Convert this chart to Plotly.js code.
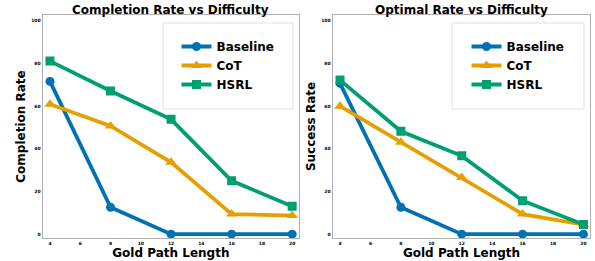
<!DOCTYPE html>
<html><head><meta charset="utf-8">
<script src="https://cdn.plot.ly/plotly-3.0.1.min.js"></script>
<style>html,body{margin:0;padding:0;background:#fff}#chart{width:595px;height:261px}</style>
</head><body><div id="chart"></div>
<script>
const pathLength = [4, 8, 12, 16, 20];
const seriesNames = ["Baseline", "CoT", "HSRL"];
const completionBaseline = [71.6, 12.6, 0, 0, 0];
const completionCoT = [60.9, 50.7, 33.7, 9.4, 8.7];
const completionHSRL = [81.1, 67.1, 53.8, 25.0, 13.1];
const optimalBaseline = [70.7, 12.6, 0, 0, 0];
const optimalCoT = [60.0, 43.1, 26.5, 9.4, 4.5];
const optimalHSRL = [72.2, 48.2, 36.7, 15.7, 4.5];
const xTicks = [4, 6, 8, 10, 12, 14, 16, 18, 20];
const yTicks = [0, 20, 40, 60, 80, 100];

const colors = ["#0072B2", "#E69F00", "#009E73"];
const symbols = ["circle", "triangle-up", "square"];
const F = "DejaVu Sans, sans-serif";

function mk(y, i, xa, ya, leg) {
  return {x: pathLength, y: y, name: seriesNames[i], type: "scatter", mode: "lines+markers",
    xaxis: xa, yaxis: ya, legend: leg,
    line: {color: colors[i], width: 3.8},
    marker: {color: colors[i], symbol: symbols[i], size: i === 1 ? 10 : 9}};
}
const traces = [
  mk(completionBaseline, 0, "x", "y", "legend"),
  mk(completionCoT, 1, "x", "y", "legend"),
  mk(completionHSRL, 2, "x", "y", "legend"),
  mk(optimalBaseline, 0, "x2", "y2", "legend2"),
  mk(optimalCoT, 1, "x2", "y2", "legend2"),
  mk(optimalHSRL, 2, "x2", "y2", "legend2")
];

function xax(dom, anchor) {
  return {domain: dom, anchor: anchor, range: [3.52, 20.45], tickvals: xTicks,
    ticks: "", ticklabelstandoff: 0,
    tickfont: {family: F, size: 4.5, color: "#000", weight: "bold"},
    showgrid: false, zeroline: false, showline: true, mirror: true, linecolor: "#b0b0b0", linewidth: 1.2,
    title: {text: "Gold Path Length", font: {family: F, size: 12, color: "#000", weight: "bold"}, standoff: 4}};
}
function yax(dom, anchor, t) {
  return {domain: dom, anchor: anchor, range: [-1.8, 102.7], tickvals: yTicks, ticksuffix: "%",
    ticks: "",
    tickfont: {family: F, size: 4.5, color: "#000", weight: "bold"},
    showgrid: false, zeroline: false, showline: true, mirror: true, linecolor: "#b0b0b0", linewidth: 1.2,
    title: {text: t, font: {family: F, size: 12, color: "#000", weight: "bold"}, standoff: 3}};
}
const yd = [0.0881, 0.9425];
const leg = (x, y) => ({x: x, y: y, xref: "paper", yref: "paper", xanchor: "left", yanchor: "top",
  bgcolor: "rgba(0,0,0,0)", borderwidth: 0, tracegroupgap: 0,
  font: {family: F, size: 12, color: "#000", weight: "bold"}});
const layout = {
  width: 595, height: 261, margin: {l: 0, r: 0, t: 0, b: 0},
  paper_bgcolor: "#fff", plot_bgcolor: "#fff", showlegend: true,
  xaxis: xax([0.0718, 0.5025], "y"),
  yaxis: yax(yd, "x", "Completion Rate"),
  xaxis2: xax([0.5592, 0.9921], "y2"),
  yaxis2: yax(yd, "x2", "Success Rate"),
  legend: leg(176.5/595, 1 - 32/261),
  legend2: leg(466.5/595, 1 - 32/261),
  shapes: [
    {type: "rect", xref: "paper", yref: "paper", x0: 163/595, x1: 293/595, y0: 1 - 109/261, y1: 1 - 23/261,
     line: {color: "#e0e0e0", width: 1}, fillcolor: "rgba(255,255,255,0.8)", layer: "below"},
    {type: "rect", xref: "paper", yref: "paper", x0: 452/595, x1: 584/595, y0: 1 - 109/261, y1: 1 - 23/261,
     line: {color: "#e0e0e0", width: 1}, fillcolor: "rgba(255,255,255,0.8)", layer: "below"}
  ],
  annotations: [
    {text: "Completion Rate vs Difficulty", xref: "paper", yref: "paper", x: 170.8/595, y: 1 - 10/261,
     xanchor: "center", yanchor: "middle", showarrow: false, font: {family: F, size: 12, color: "#000", weight: "bold"}},
    {text: "Optimal Rate vs Difficulty", xref: "paper", yref: "paper", x: 461.5/595, y: 1 - 10/261,
     xanchor: "center", yanchor: "middle", showarrow: false, font: {family: F, size: 12, color: "#000", weight: "bold"}}
  ]
};
Plotly.newPlot("chart", traces, layout, {displayModeBar: false, staticPlot: true});
</script></body></html>
